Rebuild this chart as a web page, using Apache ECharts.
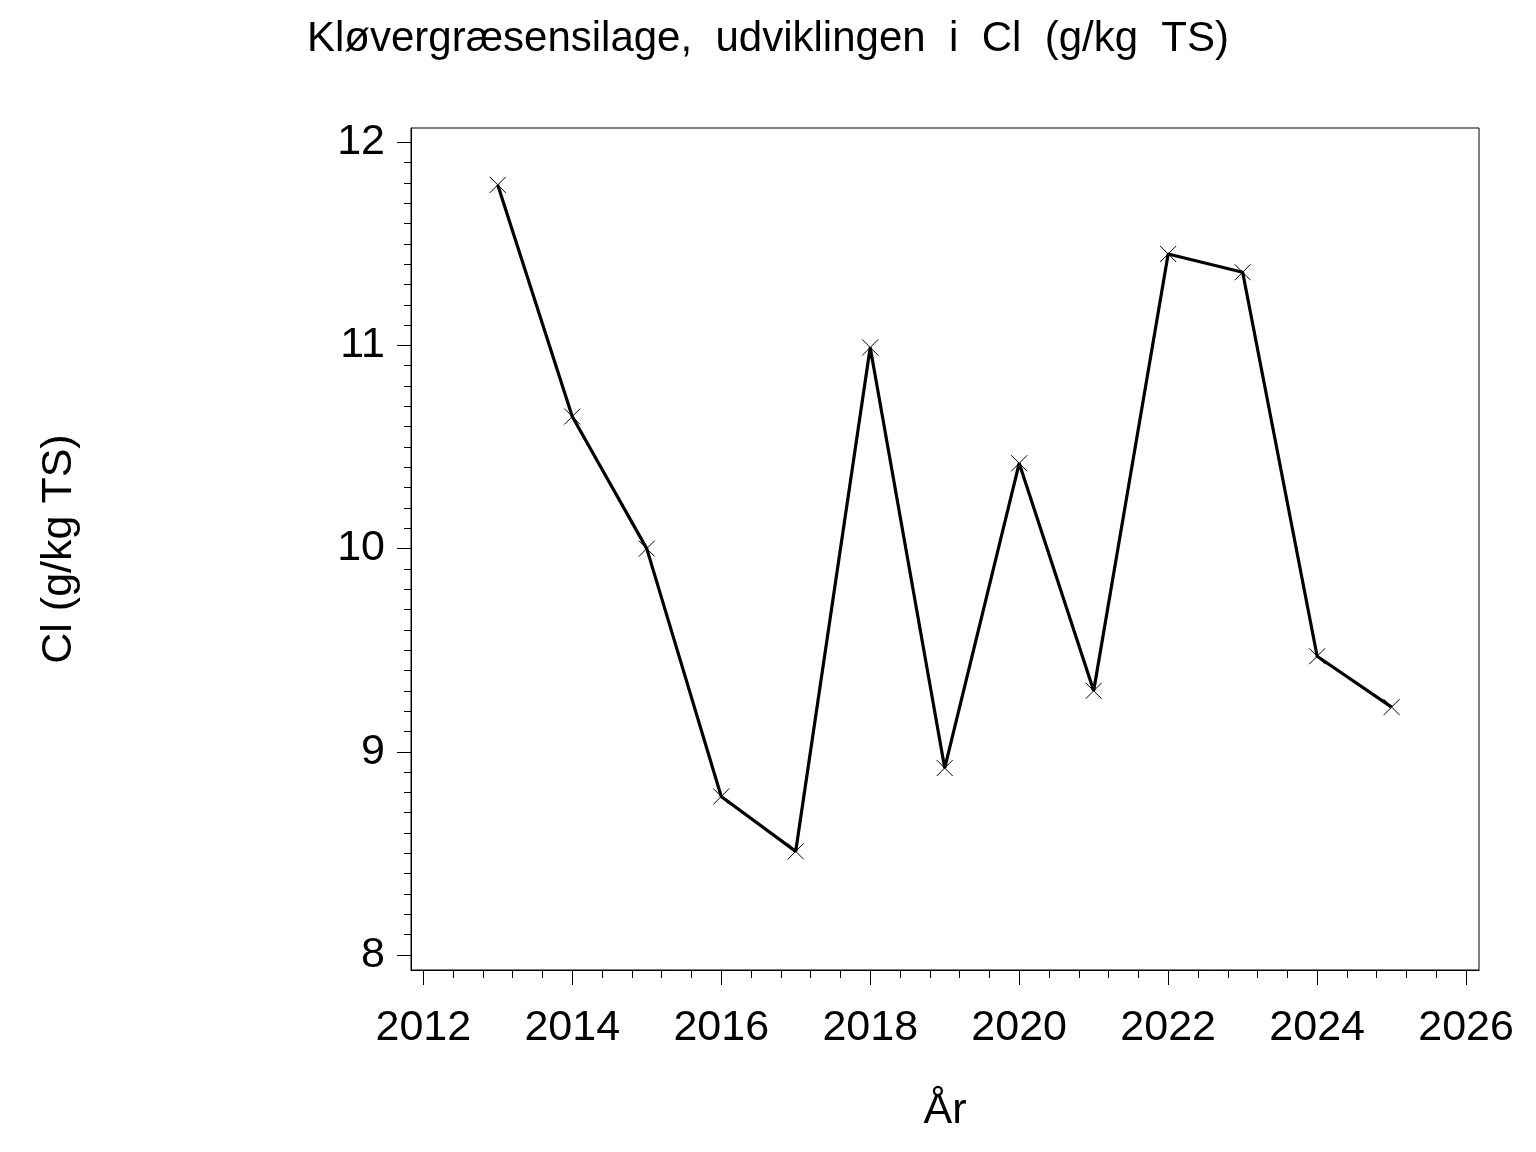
<!DOCTYPE html>
<html>
<head>
<meta charset="utf-8">
<script src="https://cdn.jsdelivr.net/npm/echarts@6/dist/echarts.min.js"></script>
<style>
html,body{margin:0;padding:0;background:#fff;}
#chart{width:1536px;height:1152px;}
</style>
</head>
<body>
<div id="chart"></div>
<script>
const years = [2013, 2014, 2015, 2016, 2017, 2018, 2019, 2020, 2021, 2022, 2023, 2024, 2025];
const clValues = [11.79, 10.65, 10.00, 8.78, 8.51, 10.99, 8.92, 10.42, 9.30, 11.45, 11.36, 9.47, 9.22];
const yTickLabels = [8, 9, 10, 11, 12];
const xTickLabels = [2012, 2014, 2016, 2018, 2020, 2022, 2024, 2026];
const titleText = 'Kløvergræsensilage,  udviklingen  i  Cl  (g/kg  TS)';
const yAxisTitle = 'Cl (g/kg TS)';
const xAxisTitle = 'År';

// minor tick positions (0.1 on y, 0.4 on x)
const yMinor = [];
for (let i = 0; i < yTickLabels.length - 1; i++) {
  for (let k = 1; k < 10; k++) yMinor.push(+(yTickLabels[i] + k * 0.1).toFixed(2));
}
const xMinor = [];
for (let i = 0; i < xTickLabels.length - 1; i++) {
  for (let k = 1; k < 5; k++) xMinor.push(+(xTickLabels[i] + k * 0.4).toFixed(2));
}

const FONT = "'Liberation Sans', Arial, Helvetica, sans-serif";
const chart = echarts.init(document.getElementById('chart'), null, {renderer: 'canvas'});
const data = years.map((y, i) => [y, clValues[i]]);

const xMin = 2011.835, xMax = 2026.173;
const yMin = 7.926, yMax = 12.070;

chart.setOption({
  backgroundColor: '#fff',
  animation: false,
  textStyle: {fontFamily: FONT},
  title: {
    text: titleText,
    left: 'center',
    top: 13,
    textStyle: {fontFamily: FONT, fontSize: 42, fontWeight: 'normal', color: '#000'}
  },
  grid: {
    left: 411, top: 128, width: 1068, height: 842,
    show: true, borderColor: '#000', borderWidth: 1, backgroundColor: 'transparent'
  },
  xAxis: [{
    type: 'value', min: xMin, max: xMax, position: 'bottom',
    name: xAxisTitle, nameLocation: 'middle', nameGap: 120,
    nameTextStyle: {fontFamily: FONT, fontSize: 43, color: '#000'},
    axisLine: {show: true, onZero: false, lineStyle: {color: '#000', width: 1}},
    axisTick: {show: true, customValues: xTickLabels, length: 15, lineStyle: {color: '#000', width: 1}},
    axisLabel: {show: true, customValues: xTickLabels, margin: 37, fontFamily: FONT, fontSize: 43, color: '#000',
      formatter: v => String(v)},
    splitLine: {show: false}
  }, {
    type: 'value', min: xMin, max: xMax, position: 'bottom',
    axisLine: {show: false},
    axisTick: {show: true, customValues: xMinor, length: 8, lineStyle: {color: '#000', width: 1}},
    axisLabel: {show: false},
    splitLine: {show: false}
  }],
  yAxis: [{
    type: 'value', min: yMin, max: yMax, position: 'left',
    name: yAxisTitle, nameLocation: 'middle', nameGap: 330, nameRotate: 90,
    nameTextStyle: {fontFamily: FONT, fontSize: 43, color: '#000'},
    axisLine: {show: true, onZero: false, lineStyle: {color: '#000', width: 1}},
    axisTick: {show: true, customValues: yTickLabels, length: 14, lineStyle: {color: '#000', width: 1}},
    axisLabel: {show: true, customValues: yTickLabels, margin: 26, fontFamily: FONT, fontSize: 43, color: '#000',
      padding: [6, 0, 0, 0]},
    splitLine: {show: false}
  }, {
    type: 'value', min: yMin, max: yMax, position: 'left',
    axisLine: {show: false},
    axisTick: {show: true, customValues: yMinor, length: 7, lineStyle: {color: '#000', width: 1}},
    axisLabel: {show: false},
    splitLine: {show: false}
  }],
  series: [{
    type: 'line',
    xAxisIndex: 0, yAxisIndex: 0,
    data: data,
    lineStyle: {color: '#000', width: 3.2},
    symbol: 'path://M0,0L16,16M16,0L0,16',
    symbolSize: 16,
    symbolKeepAspect: true,
    showSymbol: true,
    itemStyle: {color: '#000', borderColor: '#000', borderWidth: 1},
    z: 3
  }]
});
</script>
</body>
</html>
